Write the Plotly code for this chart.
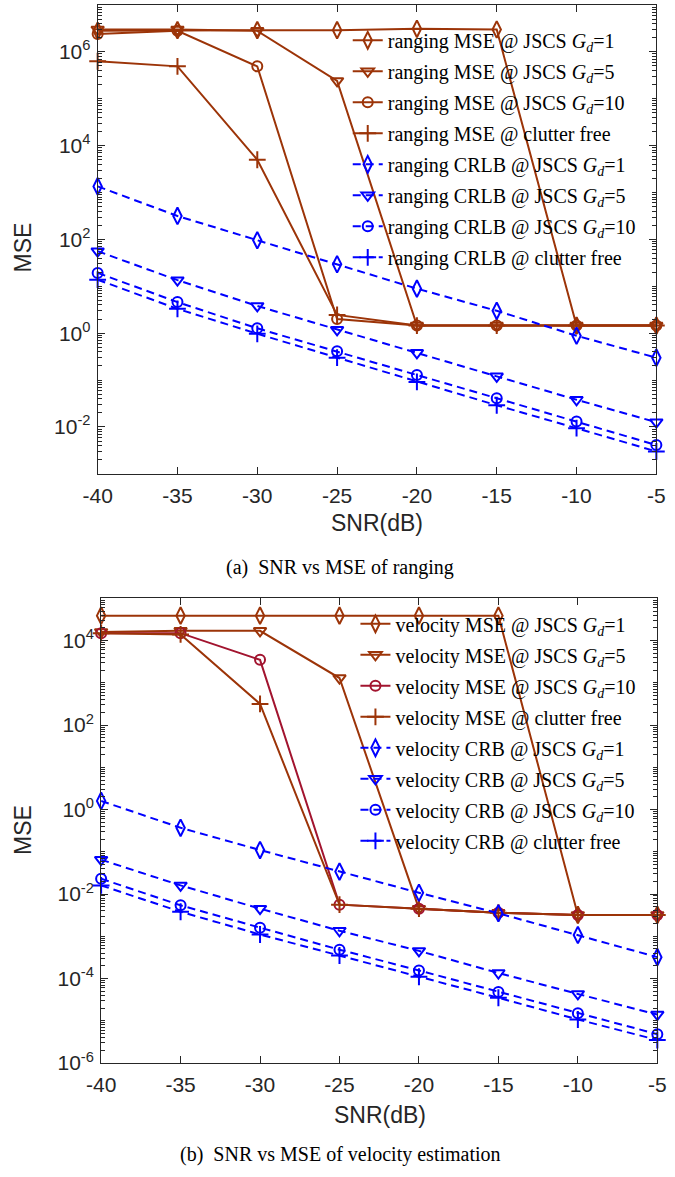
import plotly.graph_objects as go

snr = [-40, -35, -30, -25, -20, -15, -10, -5]

# ---- (a) ranging ----
rng_mse_g1 = [2.8e6, 2.9e6, 2.9e6, 2.9e6, 3.1e6, 3.0e6, 1.45, 1.45]
rng_mse_g5 = [3.0e6, 3.0e6, 2.8e6, 2.4e5, 1.45, 1.45, 1.45, 1.45]
rng_mse_g10 = [2.4e6, 2.8e6, 4.9e5, 2.0, 1.45, 1.45, 1.45, 1.45]
rng_mse_cf = [6.3e5, 4.9e5, 5.0e3, 2.45, 1.45, 1.45, 1.45, 1.45]
rng_crlb_g1 = [1350, 316, 96, 29.5, 8.9, 3.0, 0.88, 0.30]
rng_crlb_g5 = [56, 13.5, 3.8, 1.18, 0.38, 0.12, 0.038, 0.0126]
rng_crlb_g10 = [19.3, 4.6, 1.27, 0.41, 0.128, 0.041, 0.013, 0.0041]
rng_crlb_cf = [13.8, 3.3, 0.97, 0.30, 0.091, 0.029, 0.0094, 0.0030]

# ---- (b) velocity ----
vel_mse_g1 = [3.9e4, 3.9e4, 3.9e4, 3.9e4, 3.9e4, 3.9e4, 3.2e-3, 3.2e-3]
vel_mse_g5 = [1.6e4, 1.7e4, 1.7e4, 1.3e3, 4.5e-3, 3.6e-3, 3.2e-3, 3.2e-3]
vel_mse_g10 = [1.5e4, 1.5e4, 3.5e3, 5.6e-3, 4.5e-3, 3.6e-3, 3.2e-3, 3.2e-3]
vel_mse_cf = [1.5e4, 1.4e4, 316, 5.6e-3, 4.5e-3, 3.6e-3, 3.2e-3, 3.2e-3]
vel_crb_g1 = [1.6, 0.37, 0.11, 0.034, 0.0107, 3.5e-3, 1.07e-3, 3.2e-4]
vel_crb_g5 = [0.065, 0.016, 4.5e-3, 1.35e-3, 4.5e-4, 1.35e-4, 4.3e-5, 1.4e-5]
vel_crb_g10 = [0.023, 5.4e-3, 1.6e-3, 4.8e-4, 1.55e-4, 4.8e-5, 1.5e-5, 4.8e-6]
vel_crb_cf = [0.016, 3.8e-3, 1.1e-3, 3.5e-4, 1.1e-4, 3.5e-5, 1.07e-5, 3.5e-6]

GD = "JSCS <i>G<sub>d</sub></i>="
rng_names = ["ranging MSE @ " + GD + "1", "ranging MSE @ " + GD + "5",
             "ranging MSE @ " + GD + "10", "ranging MSE @ clutter free",
             "ranging CRLB @ " + GD + "1", "ranging CRLB @ " + GD + "5",
             "ranging CRLB @ " + GD + "10", "ranging CRLB @ clutter free"]
vel_names = ["velocity MSE @ " + GD + "1", "velocity MSE @ " + GD + "5",
             "velocity MSE @ " + GD + "10", "velocity MSE @ clutter free",
             "velocity CRB @ " + GD + "1", "velocity CRB @ " + GD + "5",
             "velocity CRB @ " + GD + "10", "velocity CRB @ clutter free"]

BROWN = "#9C3408"
CRIMSON = "#A2142F"
BLUE = "#0000FF"
symbols = ["diamond-tall-open", "triangle-down-open", "circle-open", "cross-thin-open"]
msizes = [12, 11, 10, 12]

fig = go.Figure()

def add_set(series, names, colors, xa, ya, legend, grp):
    for i, (vals, name) in enumerate(zip(series, names)):
        is_bound = i >= 4
        col = colors[i]
        fig.add_trace(go.Scatter(
            x=snr, y=vals, name=name, mode="lines+markers",
            xaxis=xa, yaxis=ya, legend=legend, cliponaxis=False,
            legendgroup=f"{grp}{i}",
            line=dict(color=col, width=2, dash="8px,5px" if is_bound else "solid"),
            marker=dict(symbol=symbols[i % 4], size=msizes[i % 4],
                        color=col, line=dict(color=col, width=2)),
        ))

add_set([rng_mse_g1, rng_mse_g5, rng_mse_g10, rng_mse_cf,
         rng_crlb_g1, rng_crlb_g5, rng_crlb_g10, rng_crlb_cf],
        rng_names, [BROWN] * 4 + [BLUE] * 4, "x", "y", "legend", "a")
add_set([vel_mse_g1, vel_mse_g5, vel_mse_g10, vel_mse_cf,
         vel_crb_g1, vel_crb_g5, vel_crb_g10, vel_crb_cf],
        vel_names, [BROWN, BROWN, CRIMSON, BROWN] + [BLUE] * 4, "x2", "y2", "legend2", "b")

W, H = 675, 1177
AX = "#262626"
SANS = "Liberation Sans, Arial, sans-serif"
SERIF = "Liberation Serif, serif"
tickfont = dict(family=SANS, size=21, color=AX)

def minor_vals(lo, hi):
    v = []
    for e in range(lo, hi):
        for m in range(2, 10):
            v.append(m * 10 ** e)
    return v

def xaxis_cfg(left, right):
    return dict(domain=[left / W, right / W], range=[-40, -5],
                tickvals=snr, ticktext=[str(s) for s in snr],
                ticks="inside", ticklen=7, tickcolor=AX, tickwidth=1,
                ticklabelstandoff=3,
                showline=True, linecolor=AX, linewidth=1, mirror="ticks",
                showgrid=False, zeroline=False, tickfont=tickfont)

def yaxis_cfg(top, bottom, lo, hi, labeled):
    return dict(type="log", domain=[1 - bottom / H, 1 - top / H],
                range=[lo, hi],
                tickvals=[10 ** e for e in labeled],
                ticktext=[f"10<sup>{e}</sup>" for e in labeled],
                ticks="inside", ticklen=7, tickcolor=AX, tickwidth=1,
                ticklabelstandoff=2,
                minor=dict(tickvals=minor_vals(lo, hi) + [10 ** e for e in range(lo, hi + 1) if e not in labeled],
                           ticks="inside", ticklen=4, tickcolor=AX, tickwidth=1),
                showline=True, linecolor=AX, linewidth=1, mirror="ticks",
                showgrid=False, zeroline=False, tickfont=tickfont)

legend_common = dict(xanchor="left", yanchor="top", bgcolor="rgba(0,0,0,0)",
                     borderwidth=0, tracegroupgap=2, itemwidth=30,
                     font=dict(family=SERIF, size=20, color="#000"))

fig.update_layout(
    width=W, height=H, margin=dict(l=0, r=0, t=0, b=0),
    paper_bgcolor="white", plot_bgcolor="white",
    xaxis=dict(**xaxis_cfg(85.7, 665), anchor="y"),
    yaxis=dict(**yaxis_cfg(5, 478.3, -3, 7, [-2, 0, 2, 4, 6]), anchor="x"),
    xaxis2=dict(**xaxis_cfg(89.3, 666), anchor="y2"),
    yaxis2=dict(**yaxis_cfg(604, 1073, -6, 5, [-6, -4, -2, 0, 2, 4]), anchor="x2"),
    legend=dict(x=345 / W, y=1 - 21 / H, **legend_common),
    legend2=dict(x=353 / W, y=1 - 610 / H, **legend_common),
)

annots = [
    dict(text="MSE", x=8 / W, y=1 - 250 / H, textangle=-90,
         font=dict(family=SANS, size=23, color=AX)),
    dict(text="SNR(dB)", x=375 / W, y=1 - 528 / H,
         font=dict(family=SANS, size=23, color=AX)),
    dict(text="(a)  SNR vs MSE of ranging", x=337 / W, y=1 - 573 / H,
         font=dict(family=SERIF, size=20, color="#000")),
    dict(text="MSE", x=8 / W, y=1 - 838 / H, textangle=-90,
         font=dict(family=SANS, size=23, color=AX)),
    dict(text="SNR(dB)", x=378 / W, y=1 - 1126 / H,
         font=dict(family=SANS, size=23, color=AX)),
    dict(text="(b)  SNR vs MSE of velocity estimation", x=338 / W, y=1 - 1165 / H,
         font=dict(family=SERIF, size=20, color="#000")),
]
for a in annots:
    fig.add_annotation(xref="paper", yref="paper", showarrow=False,
                       xanchor="center", yanchor="middle", **a)

fig.write_html("out.html")
